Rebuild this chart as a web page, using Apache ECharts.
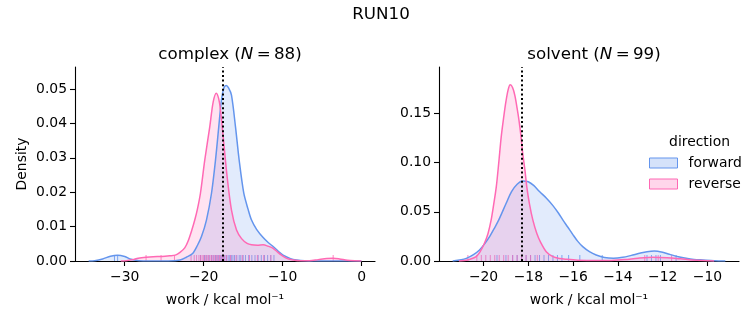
<!DOCTYPE html>
<html>
<head>
<meta charset="utf-8">
<script src="https://cdn.jsdelivr.net/npm/echarts@6/dist/echarts.min.js"></script>
<style>html,body{margin:0;padding:0;background:#fff}#chart{width:753px;height:325px}</style>
</head>
<body>
<div id="chart"></div>
<script>
// ---- data ----
const complexForward = [[-34.57,0],[-33.8,0.0001],[-32.8,0.0006],[-31.8,0.0014],[-30.9,0.0017],[-30.0,0.0013],[-29.2,0.0005],[-28.2,0.0001],[-27,0],[-24.5,0.00002],[-23.0,0.0003],[-22.2,0.0011],[-21.4,0.0022],[-20.8,0.0045],[-20.28,0.0071],[-19.65,0.0119],[-19.01,0.0197],[-18.5,0.0294],[-18.09,0.039],[-17.75,0.0468],[-17.45,0.0502],[-17.15,0.051],[-16.85,0.0503],[-16.48,0.0482],[-15.97,0.039],[-15.51,0.0294],[-14.92,0.0197],[-14.37,0.015],[-13.94,0.0119],[-13.3,0.0092],[-12.47,0.0068],[-11.8,0.0053],[-11.2,0.0042],[-10.5,0.0027],[-9.94,0.0017],[-9.0,0.0007],[-8.24,0.0003],[-7.2,0.00005],[-6,0],[-0.03,0]];
const complexReverse = [[-30.5,0],[-29.8,0.0001],[-29.0,0.0004],[-28.3,0.0008],[-27.3,0.0011],[-26.4,0.00125],[-25.3,0.0013],[-24.3,0.0015],[-23.6,0.0017],[-23.0,0.0025],[-22.4,0.0038],[-21.97,0.0058],[-21.5,0.009],[-21.13,0.0119],[-20.8,0.015],[-20.41,0.0197],[-19.86,0.0294],[-19.23,0.039],[-18.8,0.0462],[-18.4,0.0488],[-18.1,0.0472],[-17.87,0.0439],[-17.45,0.0342],[-17.03,0.0245],[-16.48,0.0148],[-15.84,0.009],[-15.2,0.0065],[-14.5,0.0051],[-13.94,0.0047],[-13.2,0.0046],[-12.47,0.0047],[-11.84,0.0043],[-11.2,0.0037],[-10.6,0.0025],[-10.14,0.0017],[-9.4,0.0007],[-8.67,0.0003],[-7.8,0.00005],[-6.6,0.0001],[-5.5,0.0004],[-4.4,0.0007],[-3.6,0.0008],[-2.8,0.0006],[-1.8,0.0002],[-0.9,0.00005],[-0.03,0]];
const solventForward = [[-21.38,0],[-21.0,0.0012],[-20.77,0.0027],[-20.45,0.0065],[-20.18,0.0112],[-19.95,0.0175],[-19.73,0.0247],[-19.5,0.034],[-19.32,0.0417],[-18.99,0.0586],[-18.75,0.0705],[-18.5,0.078],[-18.25,0.0813],[-18.0,0.0805],[-17.75,0.0765],[-17.5,0.0705],[-17.2,0.064],[-16.91,0.0565],[-16.65,0.0485],[-16.46,0.0417],[-16.24,0.0345],[-16.01,0.0268],[-15.8,0.0202],[-15.57,0.0146],[-15.27,0.0095],[-14.97,0.0061],[-14.6,0.0035],[-14.2,0.0027],[-13.78,0.0037],[-13.4,0.0057],[-13.04,0.0078],[-12.7,0.0095],[-12.37,0.0102],[-12.0,0.0089],[-11.7,0.0068],[-11.3,0.0043],[-10.95,0.0027],[-10.6,0.0016],[-10.2,0.001],[-9.7,0.0003],[-9.2,0]];
const solventReverse = [[-21.1,0],[-20.85,0.0005],[-20.6,0.0018],[-20.33,0.0044],[-20.15,0.0095],[-19.96,0.018],[-19.8,0.028],[-19.66,0.0417],[-19.55,0.057],[-19.43,0.0755],[-19.32,0.1],[-19.21,0.1263],[-19.1,0.146],[-19.0,0.162],[-18.9,0.174],[-18.81,0.1789],[-18.7,0.176],[-18.6,0.168],[-18.5,0.155],[-18.42,0.1433],[-18.33,0.127],[-18.25,0.1094],[-18.15,0.092],[-18.07,0.0755],[-17.95,0.058],[-17.8,0.0417],[-17.62,0.028],[-17.45,0.019],[-17.2,0.0095],[-16.9,0.0044],[-16.6,0.0025],[-16.3,0.0017],[-15.8,0.0008],[-15.0,0.0004],[-14.3,0.0006],[-13.7,0.0014],[-13.1,0.0028],[-12.44,0.0037],[-11.8,0.0033],[-11.2,0.0022],[-10.7,0.0011],[-10.2,0.0004],[-9.7,0]];

const complexForwardRug = [-31.3,-30.9,-20.4,-19.9,-19.6,-19.3,-19.0,-18.8,-18.5,-18.3,-18.1,-17.9,-17.7,-17.5,-17.3,-17.1,-16.9,-16.7,-16.5,-16.3,-16.1,-15.8,-15.5,-15.3,-15.0,-14.7,-14.3,-13.9,-13.5,-13.1,-12.7,-12.3,-11.9,-11.5,-11.1];
const complexReverseRug = [-27.3,-25.4,-23.7,-21.6,-21.2,-20.9,-20.6,-20.4,-20.2,-20.0,-19.8,-19.6,-19.4,-19.2,-19.0,-18.8,-18.6,-18.4,-18.2,-18.0,-17.8,-17.6,-17.4,-17.1,-16.6,-15.9,-15.1,-14.2,-13.2,-12.4,-11.5,-3.6];
const solventForwardRug = [-19.4,-19.0,-18.7,-18.5,-18.3,-18.1,-17.9,-17.7,-17.5,-17.3,-17.1,-16.9,-16.7,-16.5,-16.2,-15.7,-14.7,-12.7,-12.5,-12.3,-12.1,-11.4];
const solventReverseRug = [-20.7,-20.3,-20.1,-19.9,-19.7,-19.5,-19.3,-19.1,-18.9,-18.7,-18.5,-18.3,-18.1,-17.9,-17.6,-12.8,-12.2,-11.6];

const complexMean = -17.6;
const solventMean = -18.3;

const complexXTicks = [-30,-20,-10,0];
const complexYTicks = [0,0.01,0.02,0.03,0.04,0.05];
const solventXTicks = [-20,-18,-16,-14,-12,-10];
const solventYTicks = [0,0.05,0.10,0.15];

const directions = ['forward','reverse'];

// ---- styling ----
const FONT = 'DejaVu Sans';
const BLUE = '#6495ED', PINK = '#FF69B4';
const BLUE_FILL = 'rgba(100,149,237,0.27)', PINK_FILL = 'rgba(255,105,180,0.27)';

const chart = echarts.init(document.getElementById('chart'), null, {renderer:'canvas'});

function minus(v){ return (v < 0 ? '\u2212' : '') + Math.abs(v); }

function xAxis(gi, min, max, ticks){
  return {
    type:'value', gridIndex:gi, min:min, max:max,
    name:'work / kcal mol\u207B\u00B9', nameLocation:'middle', nameGap:32,
    nameTextStyle:{fontFamily:FONT, fontSize:13.9, color:'#000'},
    axisLine:{show:true, onZero:false, lineStyle:{color:'#000', width:1.1}},
    axisTick:{show:true, length:5, lineStyle:{color:'#000', width:1.1}, customValues:ticks},
    axisLabel:{fontFamily:FONT, fontSize:13.9, color:'#000', margin:9, customValues:ticks,
      formatter:function(v){return minus(v);}},
    splitLine:{show:false}
  };
}
function yAxis(gi, max, ticks, name){
  return {
    type:'value', gridIndex:gi, min:0, max:max,
    name:name, nameLocation:'middle', nameGap:46,
    nameTextStyle:{fontFamily:FONT, fontSize:13.9, color:'#000'},
    axisLine:{show:true, onZero:false, lineStyle:{color:'#000', width:1.1}},
    axisTick:{show:true, length:5, lineStyle:{color:'#000', width:1.1}, customValues:ticks},
    axisLabel:{fontFamily:FONT, fontSize:13.9, color:'#000', margin:8, customValues:ticks,
      formatter:function(v){return v.toFixed(2);}},
    splitLine:{show:false}
  };
}
function kde(name, data, gi, color, fill, meanVal){
  const s = {
    name:name, type:'line', xAxisIndex:gi, yAxisIndex:gi, data:data,
    smooth:0.3, showSymbol:false, symbol:'none',
    lineStyle:{color:color, width:1.5},
    itemStyle:{color:color},
    areaStyle:{color:fill, origin:'start'},
    emphasis:{disabled:true}, silent:true
  };
  if (meanVal !== undefined) {
    s.markLine = {symbol:'none', silent:true, label:{show:false},
      lineStyle:{color:'#000', type:[2,2.6], width:2}, emphasis:{disabled:true},
      data:[{xAxis:meanVal}], z:10};
  }
  return s;
}
function rug(name, vals, gi, color){
  return {
    name:name, type:'scatter', xAxisIndex:gi, yAxisIndex:gi,
    data: vals.map(function(v){return [v,0];}),
    symbol:'rect', symbolSize:[1,6], symbolOffset:[0,-3],
    itemStyle:{color:color, opacity:0.8}, silent:true, emphasis:{disabled:true}
  };
}

const titleRich = {
  a:{fontFamily:FONT, fontSize:16.7, fontWeight:'normal', color:'#000'},
  i:{fontFamily:FONT, fontSize:16.7, fontWeight:'normal', color:'#000', fontStyle:'italic'}
};

const option = {
  animation:false,
  backgroundColor:'#fff',
  title:[
    {text:'RUN10', left:376, top:1, textAlign:'center', textStyle:{fontFamily:FONT, fontSize:16.7, fontWeight:'normal', color:'#000'}},
    {text:'{a|complex (}{i|N}{a|\u2009=\u200988)}', left:225, top:41, textAlign:'center', textStyle:{fontWeight:'normal', rich:titleRich}},
    {text:'{a|solvent (}{i|N}{a|\u2009=\u200999)}', left:589, top:41, textAlign:'center', textStyle:{fontWeight:'normal', rich:titleRich}},
    {text:'direction', left:694.5, top:130, textAlign:'center', textStyle:{fontFamily:FONT, fontSize:13.9, fontWeight:'normal', color:'#000'}}
  ],
  legend:{
    orient:'vertical', left:644, top:151, icon:'rect',
    itemWidth:28, itemHeight:10, itemGap:7,
    textStyle:{fontFamily:FONT, fontSize:13.9, color:'#000', padding:[0,0,0,6]},
    data:[
      {name:directions[0], itemStyle:{color:BLUE_FILL, borderColor:BLUE, borderWidth:1}},
      {name:directions[1], itemStyle:{color:PINK_FILL, borderColor:PINK, borderWidth:1}}
    ],
    selectedMode:false
  },
  grid:[
    {left:75, top:67, width:300, height:194},
    {left:439, top:67, width:300, height:194}
  ],
  xAxis:[ xAxis(0, -36.3, 1.7, complexXTicks), xAxis(1, -21.99, -8.59, solventXTicks) ],
  yAxis:[ yAxis(0, 0.0564, complexYTicks, 'Density'), yAxis(1, 0.197, solventYTicks, '') ],
  series:[
    kde(directions[0], complexForward, 0, BLUE, BLUE_FILL, complexMean),
    kde(directions[1], complexReverse, 0, PINK, PINK_FILL),
    kde(directions[0], solventForward, 1, BLUE, BLUE_FILL, solventMean),
    kde(directions[1], solventReverse, 1, PINK, PINK_FILL),
    rug('rug-cf', complexForwardRug, 0, BLUE),
    rug('rug-cr', complexReverseRug, 0, PINK),
    rug('rug-sf', solventForwardRug, 1, BLUE),
    rug('rug-sr', solventReverseRug, 1, PINK)
  ]
};
chart.setOption(option);
</script>
</body>
</html>
